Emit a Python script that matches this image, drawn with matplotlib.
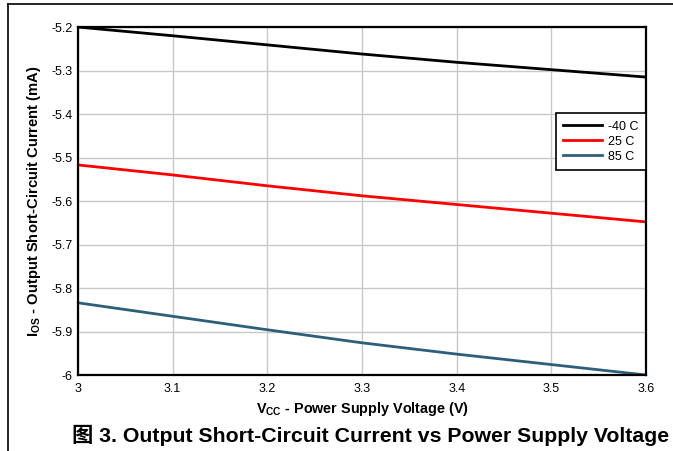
import matplotlib
matplotlib.use("Agg")
import matplotlib.pyplot as plt
from matplotlib.lines import Line2D

plt.rcParams['font.family'] = ['Liberation Sans', 'Noto Sans CJK SC', 'DejaVu Sans']

# data
vcc = [3.0, 3.1, 3.2, 3.3, 3.4, 3.5, 3.6]
ios_m40 = [-5.200, -5.220, -5.241, -5.262, -5.281, -5.298, -5.315]
ios_25 = [-5.517, -5.540, -5.565, -5.588, -5.608, -5.628, -5.648]
ios_85 = [-5.834, -5.865, -5.896, -5.926, -5.952, -5.976, -6.000]

x_ticks = [3, 3.1, 3.2, 3.3, 3.4, 3.5, 3.6]
x_tick_labels = ["3", "3.1", "3.2", "3.3", "3.4", "3.5", "3.6"]
y_ticks = [-6, -5.9, -5.8, -5.7, -5.6, -5.5, -5.4, -5.3, -5.2]
y_tick_labels = ["-6", "-5.9", "-5.8", "-5.7", "-5.6", "-5.5", "-5.4", "-5.3", "-5.2"]

fig = plt.figure(figsize=(6.73, 4.51), dpi=100)
ax = fig.add_axes([0.1159, 0.1685, 0.8441, 0.7715])

ax.plot(vcc, ios_m40, color="black", lw=2, label="-40 C")
ax.plot(vcc, ios_25, color="#ff0000", lw=2, label="25 C")
ax.plot(vcc, ios_85, color="#2e5f7a", lw=2, label="85 C")

ax.set_xlim(3, 3.6)
ax.set_ylim(-6, -5.2)
ax.set_xticks(x_ticks)
ax.set_xticklabels(x_tick_labels)
ax.set_yticks(y_ticks)
ax.set_yticklabels(y_tick_labels)
ax.tick_params(length=0, labelsize=9)
ax.tick_params(axis="x", pad=6)
ax.tick_params(axis="y", pad=4)
ax.grid(True, color="#c8c8c8", lw=1)
ax.set_axisbelow(True)
for s in ax.spines.values():
    s.set_linewidth(1.6)
    s.set_color("black")

ax.set_xlabel("V$_{\\mathregular{CC}}$ - Power Supply Voltage (V)", fontsize=10.4, fontweight="bold", labelpad=3)
ax.set_ylabel("I$_{\\mathregular{OS}}$ - Output Short-Circuit Current (mA)", fontsize=10.6, fontweight="bold", labelpad=6)

leg = ax.legend(loc="upper right", bbox_to_anchor=(1.0, 0.753), borderaxespad=0,
                fancybox=False, framealpha=1, edgecolor="black", fontsize=9,
                handlelength=3.1, handletextpad=0.5, labelspacing=0.25, borderpad=0.6)
leg.get_frame().set_linewidth(1.2)

fig.text(0.55, 0.01, "图 3. Output Short-Circuit Current vs Power Supply Voltage",
         ha="center", va="bottom", fontsize=15.3, fontweight="bold")

# page frame lines
fig.add_artist(Line2D([8 / 673, 1], [1 - 4 / 451, 1 - 4 / 451], color="black", lw=1.2, transform=fig.transFigure))
fig.add_artist(Line2D([8 / 673, 8 / 673], [0, 1 - 4 / 451], color="black", lw=1.2, transform=fig.transFigure))

fig.savefig("out.png", dpi=100)
